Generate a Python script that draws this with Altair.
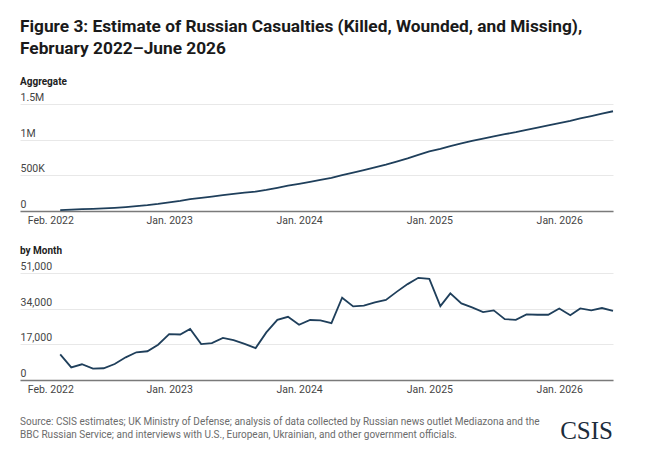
import altair as alt
import pandas as pd

# ---- data ----
months = [
    "2022-03-01", "2022-04-01", "2022-05-01", "2022-06-01", "2022-07-01", "2022-08-01",
    "2022-09-01", "2022-10-01", "2022-11-01", "2022-12-01",
    "2023-01-01", "2023-02-01", "2023-03-01", "2023-04-01", "2023-05-01", "2023-06-01",
    "2023-07-01", "2023-08-01", "2023-09-01", "2023-10-01", "2023-11-01", "2023-12-01",
    "2024-01-01", "2024-02-01", "2024-03-01", "2024-04-01", "2024-05-01", "2024-06-01",
    "2024-07-01", "2024-08-01", "2024-09-01", "2024-10-01", "2024-11-01", "2024-12-01",
    "2025-01-01", "2025-02-01", "2025-03-01", "2025-04-01", "2025-05-01", "2025-06-01",
    "2025-07-01", "2025-08-01", "2025-09-01", "2025-10-01", "2025-11-01", "2025-12-01",
    "2026-01-01", "2026-02-01", "2026-03-01", "2026-04-01", "2026-05-01", "2026-06-01",
]
monthly = [
    12200, 6000, 7500, 5400, 5600, 7600, 10800, 13200, 13700, 16800,
    21900, 21700, 24300, 17100, 17600, 20100, 19000, 17200, 15200, 22700, 28700, 30100,
    26300, 28600, 28400, 27100, 39200, 35100, 35400, 37000, 38200, 42000, 45700, 48700,
    48200, 35200, 41300, 36500, 34600, 32400, 33200, 29000, 28700, 31300, 31100, 31100,
    34100, 30900, 34100, 33200, 34300, 33000,
]
agg_ticks = [0, 500000, 1000000, 1500000]
month_ticks = [0, 17000, 34000, 51000]

title_lines = [
    "Figure 3: Estimate of Russian Casualties (Killed, Wounded, and Missing),",
    "February 2022\u2013June 2026",
]
source_text = (
    "Source: CSIS estimates; UK Ministry of Defense; analysis of data collected by Russian news outlet Mediazona and the\n"
    "BBC Russian Service; and interviews with U.S., European, Ukrainian, and other government officials."
)

df = pd.DataFrame({"month": months, "casualties": monthly})
notes = pd.DataFrame({"source": [source_text], "logo": ["CSIS"]})

FONT = "Roboto"
LINE = "#1f3f5b"
W, H = 593, 107

x_ticks = [
    alt.DateTime(year=2022, month=2, date=1, utc=True),
    alt.DateTime(year=2023, month=1, date=1, utc=True),
    alt.DateTime(year=2024, month=1, date=1, utc=True),
    alt.DateTime(year=2025, month=1, date=1, utc=True),
    alt.DateTime(year=2026, month=1, date=1, utc=True),
]
x_domain = [
    alt.DateTime(year=2021, month=11, date=8, utc=True),
    alt.DateTime(year=2026, month=6, date=1, utc=True),
]


def x_enc():
    return alt.X(
        "month:T",
        scale=alt.Scale(type="utc", domain=x_domain),
        axis=alt.Axis(
            values=x_ticks,
            labelExpr="utcFormat(datum.value, '%b. %Y')",
            title=None,
            grid=False,
            ticks=False,
            domainColor="#7a7a7a",
            domainWidth=1.5,
            labelPadding=4,
            labelFontSize=10.5,
            labelColor="#444444",
            labelFont=FONT,
            labelFlush=False,
        ),
    )


def y_axis(values, expr):
    return alt.Axis(
        values=values,
        labelExpr=expr,
        title=None,
        domain=False,
        ticks=False,
        tickSize=0,
        labelAlign="left",
        labelBaseline="alphabetic",
        labelPadding=0,
        labelOffset=-3.5,
        labelFontSize=10.5,
        labelColor="#444444",
        labelFont=FONT,
        gridColor="#e8e8e8",
        labelOverlap=False,
    )


agg_label = (
    "datum.value == 0 ? '0' : datum.value >= 1000000 ? "
    "format(datum.value / 1000000, '~g') + 'M' : format(datum.value / 1000, '~g') + 'K'"
)
month_label = "format(datum.value, ',')"

top = (
    alt.Chart(df)
    .transform_window(total="sum(casualties)", sort=[alt.SortField("month")], frame=[None, 0])
    .mark_line(color=LINE, strokeWidth=1.8)
    .encode(
        x=x_enc(),
        y=alt.Y(
            "total:Q",
            scale=alt.Scale(domain=[0, 1500000], nice=False),
            axis=y_axis(agg_ticks, agg_label),
        ),
    )
    .properties(
        width=W,
        height=H,
        title=alt.TitleParams(
            "Aggregate", anchor="start", fontSize=10, fontWeight="bold",
            font=FONT, color="#222222", offset=6,
        ),
    )
)

bottom_line = (
    alt.Chart(df)
    .mark_line(color=LINE, strokeWidth=1.8)
    .encode(
        x=x_enc(),
        y=alt.Y(
            "casualties:Q",
            scale=alt.Scale(domain=[0, 51000], nice=False),
            axis=y_axis(month_ticks, month_label),
        ),
    )
)

source_mark = (
    alt.Chart(notes)
    .mark_text(
        align="left", baseline="alphabetic", fontSize=10, font=FONT,
        color="#6b6b6b", lineBreak="\n", lineHeight=13,
    )
    .encode(text="source:N", x=alt.value(0), y=alt.value(152))
)

logo_mark = (
    alt.Chart(notes)
    .mark_text(
        align="right", baseline="alphabetic", fontSize=25,
        font="Liberation Serif", color="#1c2c3c",
    )
    .encode(text="logo:N", x=alt.value(593), y=alt.value(166))
)

bottom = alt.layer(bottom_line, source_mark, logo_mark).properties(
    width=W,
    height=H,
    title=alt.TitleParams(
        "by Month", anchor="start", fontSize=10, fontWeight="bold",
        font=FONT, color="#222222", offset=6,
    ),
)

chart = (
    alt.vconcat(top, bottom, spacing=19)
    .properties(
        title=alt.TitleParams(
            title_lines, anchor="start", fontSize=17.3, fontWeight="bold",
            font=FONT, color="#1a1a1a", lineHeight=22, offset=19,
        ),
        padding={"left": 12, "top": 10, "right": 10, "bottom": 5},
        background="white",
    )
    .configure_view(stroke=None)
)

chart.save("out.html", embed_options={"renderer": "svg", "actions": False})
